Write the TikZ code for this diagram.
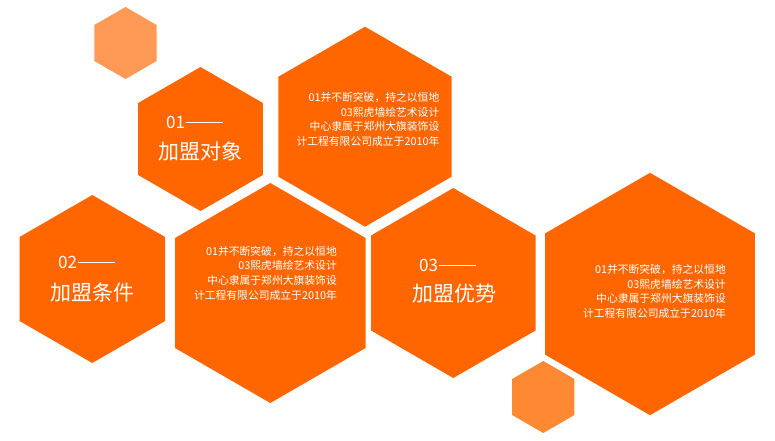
\documentclass[tikz,border=0pt]{standalone}
\usepackage{fontspec}
\newfontfamily\cjk{Noto Sans CJK SC}
\definecolor{hexmain}{HTML}{FF6600}
\definecolor{hexlight}{HTML}{FF9955}
\definecolor{hexmid}{HTML}{FF8833}
\newcommand{\hexshape}[4]{%
  \fill[#4,shift={(#1,#2)}] (90:#3) -- (150:#3) -- (210:#3) -- (270:#3) -- (330:#3) -- (30:#3) -- cycle;}
\newcommand{\longdash}{\hspace{0.6pt}\rule[5.4pt]{37pt}{0.9pt}}
\tikzset{
  numtext/.style={anchor=west,inner sep=0pt,text=white,font=\cjk\fontsize{17}{19}\selectfont},
  titletext/.style={anchor=west,inner sep=0pt,text=white,font=\cjk\fontsize{21}{24}\selectfont},
  bodytext/.style={anchor=east,inner sep=0pt,align=right,text=white,font=\cjk\fontsize{10.8}{14.6}\selectfont},
}
\begin{document}
\begin{tikzpicture}[x=1pt,y=-1pt]
\useasboundingbox[fill=white] (0,0) rectangle (775,440);
% hexagons
\hexshape{125.5}{43}{36}{hexlight}
\hexshape{200.5}{139}{72}{hexmain}
\hexshape{365}{126.7}{100}{hexmain}
\hexshape{92.3}{279}{84}{hexmain}
\hexshape{270.3}{293}{110}{hexmain}
\hexshape{453.3}{283}{95}{hexmain}
\hexshape{650}{294}{121.2}{hexmain}
\hexshape{543.3}{397}{36}{hexmid}
% titles
\node[numtext] (n1) at (166,122) {01\longdash};
\node[titletext] (t1) at (158.5,151) {加盟对象};
\node[numtext] (n2) at (58,262.5) {02\longdash};
\node[titletext] (t2) at (50,292.5) {加盟条件};
\node[numtext] (n3) at (419,265.5) {03\longdash};
\node[titletext] (t3) at (412,294) {加盟优势};
% body texts
\node[bodytext] (b1) at (439.5,119.5) {01并不断突破，持之以恒地\\03熙虎墙绘艺术设计\\中心隶属于郑州大旗装饰设\\计工程有限公司成立于2010年};
\node[bodytext] (b2) at (337,273) {01并不断突破，持之以恒地\\03熙虎墙绘艺术设计\\中心隶属于郑州大旗装饰设\\计工程有限公司成立于2010年};
\node[bodytext] (b3) at (726,291.3) {01并不断突破，持之以恒地\\03熙虎墙绘艺术设计\\中心隶属于郑州大旗装饰设\\计工程有限公司成立于2010年};
\end{tikzpicture}
\end{document}
